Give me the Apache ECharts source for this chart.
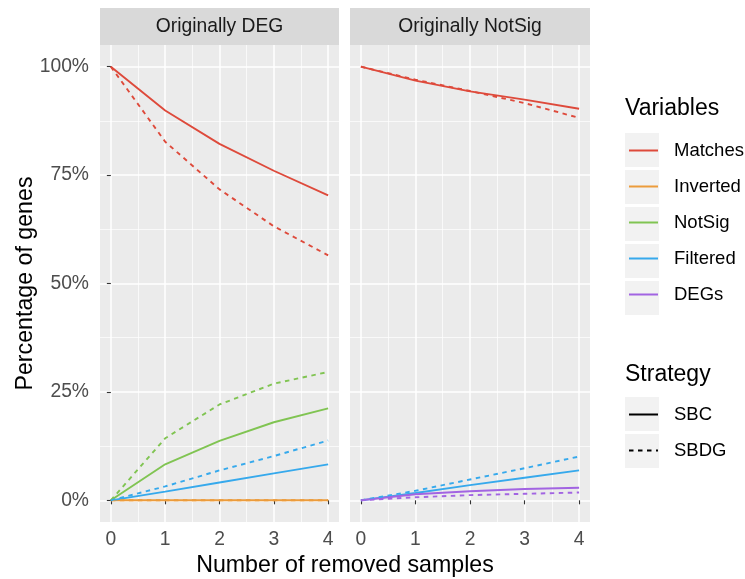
<!DOCTYPE html>
<html>
<head>
<meta charset="utf-8">
<script src="https://cdn.jsdelivr.net/npm/echarts@6/dist/echarts.min.js"></script>
<style>html,body{margin:0;padding:0;background:#fff;}#c{width:745px;height:579px;}</style>
</head>
<body>
<div id="c"></div>
<script>
const removed = [0, 1, 2, 3, 4];
const xTicks = [0, 1, 2, 3, 4];
const xMinor = [0.5, 1.5, 2.5, 3.5];
const yTicks = [0, 25, 50, 75, 100];
const yMinor = [12.5, 37.5, 62.5, 87.5];
const yTickLabels = ['0%', '25%', '50%', '75%', '100%'];
const panels = ['Originally DEG', 'Originally NotSig'];
const variables = ['Matches', 'Inverted', 'NotSig', 'Filtered', 'DEGs'];
const strategies = ['SBC', 'SBDG'];
const varColors = ['#DE4A3B', '#EC9C3C', '#80C452', '#36A9EC', '#A264E2'];

// Originally DEG panel
const degMatchesSBC = [100, 89.9, 82.2, 76.0, 70.3];
const degMatchesSBDG = [100, 82.7, 71.7, 63.2, 56.5];
const degInvertedSBC = [0, 0, 0, 0, 0];
const degInvertedSBDG = [0, 0, 0, 0, 0];
const degNotSigSBC = [0, 8.3, 13.7, 18.0, 21.2];
const degNotSigSBDG = [0, 14.3, 22.1, 26.9, 29.6];
const degFilteredSBC = [0, 2.0, 4.1, 6.2, 8.3];
const degFilteredSBDG = [0, 3.2, 6.9, 10.2, 13.8];
// Originally NotSig panel
const nsMatchesSBC = [100, 96.8, 94.3, 92.4, 90.3];
const nsMatchesSBDG = [100, 97.0, 94.4, 91.6, 88.2];
const nsFilteredSBC = [0, 1.7, 3.5, 5.2, 6.9];
const nsFilteredSBDG = [0, 2.2, 4.8, 7.4, 10.1];
const nsDEGsSBC = [0, 1.4, 2.1, 2.6, 2.9];
const nsDEGsSBDG = [0, 0.7, 1.2, 1.5, 1.8];

const FONT = 'Liberation Sans, Arial, Helvetica, sans-serif';
const DASH = [4.5, 4.5];

const panelSeries = [
  // [panel, variable, strategy, values]
  [0, 'Matches', 'SBC', degMatchesSBC],
  [0, 'Matches', 'SBDG', degMatchesSBDG],
  [0, 'Inverted', 'SBC', degInvertedSBC],
  [0, 'Inverted', 'SBDG', degInvertedSBDG],
  [0, 'NotSig', 'SBC', degNotSigSBC],
  [0, 'NotSig', 'SBDG', degNotSigSBDG],
  [0, 'Filtered', 'SBC', degFilteredSBC],
  [0, 'Filtered', 'SBDG', degFilteredSBDG],
  [1, 'Matches', 'SBC', nsMatchesSBC],
  [1, 'Matches', 'SBDG', nsMatchesSBDG],
  [1, 'Filtered', 'SBC', nsFilteredSBC],
  [1, 'Filtered', 'SBDG', nsFilteredSBDG],
  [1, 'DEGs', 'SBC', nsDEGsSBC],
  [1, 'DEGs', 'SBDG', nsDEGsSBDG]
];

// all SBC first so legend icons are solid
const ordered = panelSeries.filter(s => s[2] === 'SBC').concat(panelSeries.filter(s => s[2] === 'SBDG'));
const series = [];
ordered.forEach(([p, v, st, vals]) => {
  const col = varColors[variables.indexOf(v)];
  series.push({
    type: 'line',
    name: v,
    xAxisIndex: p * 2,
    yAxisIndex: p * 2,
    data: removed.map((x, i) => [x, vals[i]]),
    symbol: 'none',
    silent: true,
    z: 3,
    itemStyle: { color: col },
    lineStyle: { color: col, width: 1.9, type: st === 'SBC' ? 'solid' : DASH }
  });
});
// strategy legend keys
series.push({ type: 'line', name: 'SBC', xAxisIndex: 0, yAxisIndex: 0, data: [], symbol: 'none',
  itemStyle: { color: '#000' }, lineStyle: { color: '#000', width: 1.9, type: 'solid' } });
series.push({ type: 'line', name: 'SBDG', xAxisIndex: 0, yAxisIndex: 0, data: [], symbol: 'none',
  itemStyle: { color: '#000' }, lineStyle: { color: '#000', width: 1.9, type: DASH } });

const grids = [
  { left: 100, top: 45, width: 239, height: 477, show: true, backgroundColor: '#EBEBEB', borderWidth: 0 },
  { left: 350, top: 45, width: 240, height: 477, show: true, backgroundColor: '#EBEBEB', borderWidth: 0 }
];

const xAxes = [], yAxes = [];
[0, 1].forEach(g => {
  xAxes.push({
    type: 'value', gridIndex: g, min: -0.2, max: 4.2, position: 'bottom',
    axisLine: { show: false },
    axisTick: { show: true, length: 4, customValues: xTicks, lineStyle: { color: '#333', width: 1.1 } },
    axisLabel: { show: true, customValues: xTicks, margin: 8, color: '#4D4D4D', fontSize: 19.3, fontFamily: FONT },
    splitLine: { show: true, lineStyle: { color: '#FFFFFF', width: 1.5 } },
    z: 2
  });
  xAxes.push({
    type: 'value', gridIndex: g, min: -0.2, max: 4.2, position: 'bottom',
    axisLine: { show: false },
    axisTick: { show: false, customValues: xMinor },
    axisLabel: { show: false, customValues: xMinor },
    splitLine: { show: true, lineStyle: { color: '#FFFFFF', width: 0.7 } },
    z: 1
  });
  yAxes.push({
    type: 'value', gridIndex: g, min: -5, max: 105, position: 'left',
    axisLine: { show: false },
    axisTick: { show: g === 0, length: 4, customValues: yTicks, lineStyle: { color: '#333', width: 1.1 } },
    axisLabel: { show: g === 0, customValues: yTicks, margin: 11, color: '#4D4D4D', fontSize: 19.3, fontFamily: FONT,
      formatter: v => yTickLabels[yTicks.indexOf(v)] },
    splitLine: { show: true, lineStyle: { color: '#FFFFFF', width: 1.5 } },
    z: 2
  });
  yAxes.push({
    type: 'value', gridIndex: g, min: -5, max: 105, position: 'left',
    axisLine: { show: false },
    axisTick: { show: false, customValues: yMinor },
    axisLabel: { show: false, customValues: yMinor },
    splitLine: { show: true, lineStyle: { color: '#FFFFFF', width: 0.7 } },
    z: 1
  });
});

const graphics = [];
// strips
grids.forEach((gr, i) => {
  graphics.push({ type: 'rect', shape: { x: gr.left, y: 8, width: gr.width, height: 37 }, style: { fill: '#D9D9D9' }, z: 0 });
  graphics.push({ type: 'text', x: gr.left + gr.width / 2, y: 26.5,
    style: { text: panels[i], align: 'center', verticalAlign: 'middle', fill: '#1A1A1A', fontSize: 19.3, fontFamily: FONT }, z: 1 });
});
// axis titles
graphics.push({ type: 'text', x: 345, y: 566,
  style: { text: 'Number of removed samples', align: 'center', verticalAlign: 'middle', fill: '#000', fontSize: 23.2, fontFamily: FONT } });
graphics.push({ type: 'text', x: 26, y: 283.5, rotation: Math.PI / 2,
  style: { text: 'Percentage of genes', align: 'center', verticalAlign: 'middle', fill: '#000', fontSize: 23.2, fontFamily: FONT } });
// legend titles
graphics.push({ type: 'text', x: 625, y: 109,
  style: { text: 'Variables', align: 'left', verticalAlign: 'middle', fill: '#000', fontSize: 23, fontFamily: FONT } });
graphics.push({ type: 'text', x: 625, y: 375,
  style: { text: 'Strategy', align: 'left', verticalAlign: 'middle', fill: '#000', fontSize: 23, fontFamily: FONT } });
// legend key backgrounds
const varCenters = variables.map((v, i) => 150 + i * 37);
const stCenters = strategies.map((s, i) => 414 + i * 37);
varCenters.concat(stCenters).forEach(c => {
  graphics.push({ type: 'rect', shape: { x: 625, y: c - 17, width: 34, height: 34 }, style: { fill: '#F2F2F2' }, z: 0 });
});

const legendCommon = {
  orient: 'vertical', left: 628, itemWidth: 29, itemHeight: 20, itemGap: 17,
  selectedMode: false, padding: 0,
  itemStyle: { opacity: 0 },
  textStyle: { color: '#000', fontSize: 18.5, fontFamily: FONT, padding: [0, 0, 0, 11] }
};

const chart = echarts.init(document.getElementById('c'), null, { renderer: 'canvas' });
chart.setOption({
  animation: false,
  backgroundColor: '#FFFFFF',
  grid: grids,
  xAxis: xAxes,
  yAxis: yAxes,
  legend: [
    Object.assign({}, legendCommon, { top: 141, data: variables }),
    Object.assign({}, legendCommon, { top: 405, data: strategies })
  ],
  graphic: graphics,
  series: series
});
</script>
</body>
</html>
